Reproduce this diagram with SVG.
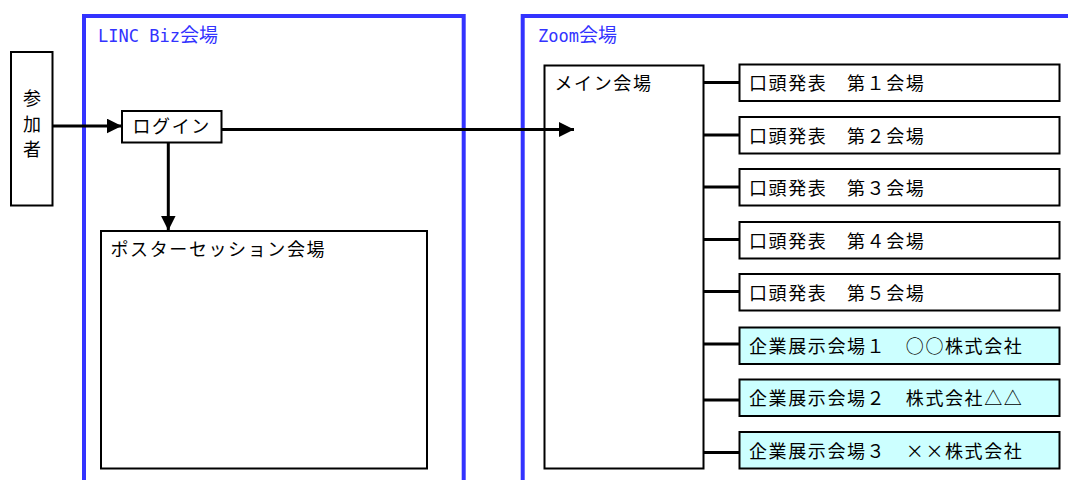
<svg xmlns="http://www.w3.org/2000/svg" width="1068" height="480" viewBox="0 0 1068 480">
<defs>
<style>
.frame{fill:none;stroke:#3333ff;stroke-width:4}
.box{fill:#ffffff;stroke:#000000;stroke-width:2}
.cbox{fill:#ccffff;stroke:#000000;stroke-width:2}
.t{font-family:"Noto Sans CJK JP","Noto Sans CJK SC",sans-serif;font-size:18px;letter-spacing:1.6px;fill:#000000}
.ft{font-family:"DejaVu Sans Mono","Liberation Mono",monospace;font-size:17px;fill:#3333ff}
.fk{font-family:"Noto Sans CJK JP",sans-serif;font-size:19px}
.ln{fill:none;stroke:#000000;stroke-width:3}
</style>
<marker id="ah" markerWidth="15" markerHeight="15" refX="15" refY="7.5" orient="auto" markerUnits="userSpaceOnUse">
<path d="M0,0 L15,7.5 L0,15 Z" fill="#000000"/>
</marker>
</defs>
<rect width="1068" height="480" fill="#ffffff"/>

<g id="linc-frame">
<path class="frame" d="M84,484 V16 H463.7 V484"/>
<text class="ft" x="98" y="42">LINC Biz<tspan class="fk">会場</tspan></text>
</g>
<g id="zoom-frame">
<path class="frame" d="M522.7,484 V16 H1072"/>
<text class="ft" x="538" y="42">Zoom<tspan class="fk">会場</tspan></text>
</g>

<g id="participant">
<rect class="box" x="11" y="52" width="41.5" height="153.5"/>
<text class="t" x="32" y="105" text-anchor="middle" style="letter-spacing:0">参</text>
<text class="t" x="32" y="130.5" text-anchor="middle" style="letter-spacing:0">加</text>
<text class="t" x="32" y="156" text-anchor="middle" style="letter-spacing:0">者</text>
</g>

<g id="login">
<rect class="box" x="122" y="111" width="99.5" height="31.5"/>
<text class="t" x="132.5" y="133">ログイン</text>
</g>

<g id="poster">
<rect class="box" x="101" y="231" width="326" height="237.5"/>
<text class="t" x="110.5" y="255.5">ポスターセッション会場</text>
</g>

<g id="main-hall">
<rect class="box" x="544.5" y="65.5" width="159" height="403"/>
<text class="t" x="554.5" y="89.5">メイン会場</text>
</g>

<g id="oral1"><rect class="box" x="739.5" y="64.5" width="320" height="36.5"/><text class="t" x="749" y="90">口頭発表　第１会場</text></g>
<g id="oral2"><rect class="box" x="739.5" y="117" width="320" height="36.5"/><text class="t" x="749" y="142.5">口頭発表　第２会場</text></g>
<g id="oral3"><rect class="box" x="739.5" y="169" width="320" height="36.5"/><text class="t" x="749" y="194.5">口頭発表　第３会場</text></g>
<g id="oral4"><rect class="box" x="739.5" y="222" width="320" height="36.5"/><text class="t" x="749" y="247.5">口頭発表　第４会場</text></g>
<g id="oral5"><rect class="box" x="739.5" y="274" width="320" height="36.5"/><text class="t" x="749" y="299.5">口頭発表　第５会場</text></g>
<g id="expo1"><rect class="cbox" x="739.5" y="327.5" width="320" height="36.5"/><text class="t" x="749" y="353">企業展示会場１　○○株式会社</text></g>
<g id="expo2"><rect class="cbox" x="739.5" y="379.5" width="320" height="36.5"/><text class="t" x="749" y="405">企業展示会場２　株式会社△△</text></g>
<g id="expo3"><rect class="cbox" x="739.5" y="432" width="320" height="36.5"/><text class="t" x="749" y="457.5">企業展示会場３　××株式会社</text></g>

<g id="connectors">
<line class="ln" x1="52.7" y1="126" x2="121.7" y2="126" marker-end="url(#ah)"/>
<line class="ln" x1="221.7" y1="129.5" x2="574" y2="129.5" marker-end="url(#ah)"/>
<line class="ln" x1="168.3" y1="142.7" x2="168.3" y2="230.5" marker-end="url(#ah)"/>
<line class="ln" x1="703.5" y1="82.5" x2="739.5" y2="82.5"/>
<line class="ln" x1="703.5" y1="135" x2="739.5" y2="135"/>
<line class="ln" x1="703.5" y1="187" x2="739.5" y2="187"/>
<line class="ln" x1="703.5" y1="239.5" x2="739.5" y2="239.5"/>
<line class="ln" x1="703.5" y1="291.5" x2="739.5" y2="291.5"/>
<line class="ln" x1="703.5" y1="344" x2="739.5" y2="344"/>
<line class="ln" x1="703.5" y1="400" x2="739.5" y2="400"/>
<line class="ln" x1="703.5" y1="452.5" x2="739.5" y2="452.5"/>
</g>
</svg>
